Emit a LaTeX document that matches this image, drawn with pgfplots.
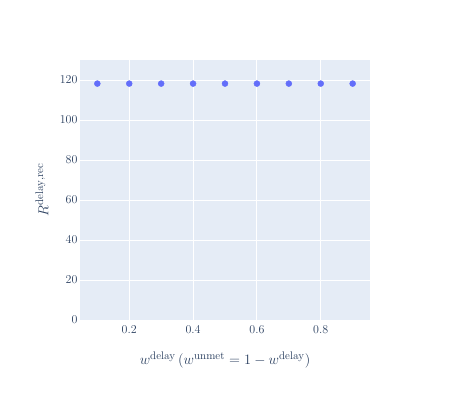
\documentclass[border=0pt]{standalone}
\usepackage{pgfplots}
\pgfplotsset{compat=1.18}
\definecolor{plotbg}{HTML}{E5ECF6}
\definecolor{plotfg}{HTML}{2A3F5F}
\definecolor{marker}{HTML}{636EFA}
\begin{document}
\begin{tikzpicture}
\path[use as bounding box] (-80pt,-80pt) rectangle (370pt,320pt);
\begin{axis}[
    at={(0pt,0pt)}, anchor=south west,
    scale only axis,
    width=290pt, height=260pt,
    xmin=0.0457, xmax=0.9543,
    ymin=0, ymax=130,
    xtick={0.2,0.4,0.6,0.8},
    ytick={0,20,40,60,80,100,120},
    xticklabels={0.2,0.4,0.6,0.8},
    axis background/.style={fill=plotbg},
    axis line style={draw=none},
    major tick length=0pt,
    grid=major,
    major grid style={white, line width=1pt},
    tick label style={font=\fontsize{12}{14}\selectfont, text=plotfg},
    xticklabel style={yshift=-2pt},
    yticklabel style={xshift=1pt},
    label style={font=\fontsize{15}{17}\selectfont, text=plotfg},
    xlabel={$w^{\mathrm{delay}}\,(w^{\mathrm{unmet}} = 1 - w^{\mathrm{delay}})$},
    ylabel={$R^{\mathrm{delay,rec}}$},
    x label style={at={(axis description cs:0.5,0)}, anchor=center, yshift=-40pt},
    y label style={at={(axis description cs:0,0.5)}, anchor=center, yshift=38pt},
]
\addplot[only marks, mark=*, mark size=3pt, color=marker] coordinates {
    (0.1,118.2) (0.2,118.2) (0.3,118.2)
    (0.4,118.2) (0.5,118.2) (0.6,118.2)
    (0.7,118.2) (0.8,118.2) (0.9,118.2)
};
\end{axis}
\end{tikzpicture}
\end{document}
